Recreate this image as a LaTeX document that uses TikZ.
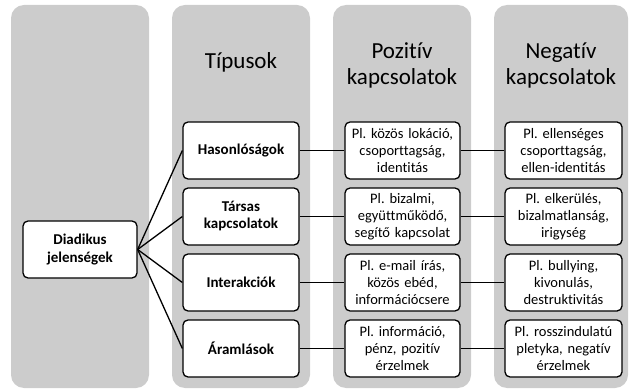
\documentclass[tikz,border=0pt]{standalone}
\usepackage{fontspec}
\setmainfont[Ligatures=NoCommon]{Carlito}
\frenchspacing
\begin{document}
\begin{tikzpicture}[x=1pt,y=-1pt,
  col/.style={fill={rgb,255:red,204;green,204;blue,204}, draw=none, rounded corners=13pt},
  box/.style={draw=black, fill=white, line width=1.3pt, rounded corners=5pt, minimum height=57pt, align=center, inner sep=1pt, font=\fontsize{14.5}{17}\selectfont},
  typebox/.style={box, minimum width=116pt, text width=112pt, font=\fontsize{15}{17}\selectfont\bfseries},
  posbox/.style={box, minimum width=115pt, text width=113pt},
  negbox/.style={box, minimum width=117pt, text width=115pt},
  title/.style={align=center, font=\fontsize{23}{26}\selectfont},
  conn/.style={line width=1.3pt}]
\useasboundingbox (0,0) rectangle (629,390);
\fill[col] (11,5) rectangle (149,388);
\fill[col] (172,5) rectangle (310,388);
\fill[col] (333,5) rectangle (471,388);
\fill[col] (494,5) rectangle (628,388);

\node[title] (t2) at (241,62) {Típusok};
\node[title] (t3) at (402,65) {Pozitív\\kapcsolatok};
\node[title] (t4) at (561,65) {Negatív\\kapcsolatok};

\node[box, minimum width=114pt, text width=112pt, font=\fontsize{15}{18}\selectfont\bfseries] (d) at (80,249.5) {Diadikus\\jelenségek};

\node[typebox] (a1) at (241,150.5) {Hasonlóságok};
\node[typebox] (a2) at (241,216.5) {Társas\\kapcsolatok};
\node[typebox] (a3) at (241,282.5) {Interakciók};
\node[typebox] (a4) at (241,348.5) {Áramlások};

\node[posbox] (p1) at (402.5,150.5) {Pl. közös lokáció,\\csoporttagság,\\identitás};
\node[posbox] (p2) at (402.5,216.5) {Pl. bizalmi,\\együttműködő,\\segítő kapcsolat};
\node[posbox] (p3) at (402.5,282.5) {Pl. e-mail írás,\\közös ebéd,\\információcsere};
\node[posbox] (p4) at (402.5,348.5) {Pl. információ,\\pénz, pozitív\\érzelmek};

\node[negbox] (n1) at (563.5,150.5) {Pl. ellenséges\\csoporttagság,\\ellen-identitás};
\node[negbox] (n2) at (563.5,216.5) {Pl. elkerülés,\\bizalmatlanság,\\irigység};
\node[negbox] (n3) at (563.5,282.5) {Pl. bullying,\\kivonulás,\\destruktivitás};
\node[negbox] (n4) at (563.5,348.5) {Pl. rosszindulatú\\pletyka, negatív\\érzelmek};

\foreach \i in {1,2,3,4}{
  \draw[conn] (d.east) -- (a\i.west);
  \draw[conn] (a\i.east) -- (p\i.west);
  \draw[conn] (p\i.east) -- (n\i.west);
}
\end{tikzpicture}
\end{document}
